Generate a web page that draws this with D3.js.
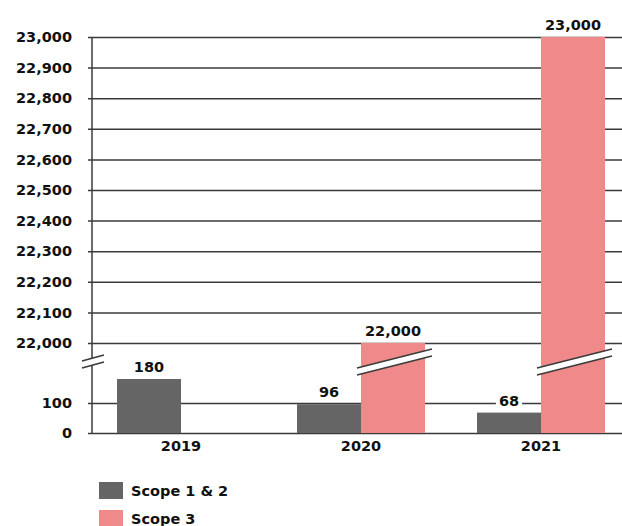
<!DOCTYPE html>
<html>
<head>
	<meta charset="utf-8">
	<script src="https://d3js.org/d3.v7.min.js"></script>
	<style>
		body { margin: 0; background: #fff; }
		svg { display: block; }
		text {
		  font-family: "DejaVu Sans", sans-serif;
		  font-weight: bold;
		  font-size: 14.5px;
		  fill: #111;
		}
		.grid line { stroke: #3a3a3a; stroke-width: 1.5; }
		.grid path { display: none; }
	</style>
</head>
<body>
<svg width="622" height="526"></svg>
<script>
	const years = [ '2019', '2020', '2021' ];
	const series = [ 'Scope 1 & 2', 'Scope 3' ];
	const scope12 = [ 180, 96, 68 ];
	const scope3 = [ null, 22000, 23000 ];
	const colors = [ '#656565', '#f08a8a' ];
	const yTicks = [ 0, 100, 22000, 22100, 22200, 22300, 22400, 22500, 22600, 22700, 22800, 22900, 23000 ];

	const svg = d3.select( 'svg' );

	// broken scale: 0–200 below the break, 22,000–23,000 above it
	const y = d3.scaleLinear()
	  .domain( [ 0, 200, 22000, 23000 ] )
	  .range( [ 433, 373, 343, 37 ] );

	const x = d3.scaleBand()
	  .domain( years )
	  .range( [ 91, 631 ] );

	const xs = d3.scaleBand()
	  .domain( series )
	  .range( [ 26, 154 ] );

	const axisX = 92;

	// grid + y labels
	const grid = svg.append( 'g' )
	  .attr( 'class', 'grid' )
	  .attr( 'transform', `translate(${ axisX }, 0)` )
	  .call( d3.axisLeft( y ).tickValues( yTicks ).tickSize( 0 ).tickFormat( d3.format( ',' ) ).tickPadding( 20 ) );
	grid.selectAll( '.tick line' )
	  .attr( 'x1', -4 )
	  .attr( 'x2', 622 - axisX );
	grid.selectAll( '.tick text' )
	  .attr( 'fill', '#111' )
	  .style( 'font-size', '14.5px' )
	  .style( 'font-family', '"DejaVu Sans", sans-serif' );

	// y axis line
	svg.append( 'line' )
	  .attr( 'x1', axisX ).attr( 'x2', axisX )
	  .attr( 'y1', y( 23000 ) ).attr( 'y2', y( 0 ) )
	  .attr( 'stroke', '#3a3a3a' ).attr( 'stroke-width', 1.5 );

	// bars
	const rows = years.map( ( yr, i ) => ( { year: yr, vals: [ scope12[i], scope3[i] ] } ) );
	const groups = svg.selectAll( 'g.year' )
	  .data( rows )
	  .enter()
	  .append( 'g' )
	  .attr( 'class', 'year' )
	  .attr( 'transform', ( d ) => `translate(${ x( d.year ) }, 0)` );

	const cells = groups.selectAll( 'g.cell' )
	  .data( ( d ) => d.vals.map( ( v, j ) => ( { v: v, s: series[j], j: j } ) ).filter( ( c ) => c.v != null ) )
	  .enter()
	  .append( 'g' )
	  .attr( 'class', 'cell' );

	cells.append( 'rect' )
	  .attr( 'x', ( c ) => xs( c.s ) )
	  .attr( 'width', xs.bandwidth() )
	  .attr( 'y', ( c ) => y( c.v ) )
	  .attr( 'height', ( c ) => y( 0 ) - y( c.v ) )
	  .attr( 'fill', ( c ) => colors[c.j] );

	// break marks across the tall bars
	const breakBand = ( x0, x1, yl, yr, gap ) =>
	  `M${ x0 },${ yl } L${ x1 },${ yr } L${ x1 },${ yr + gap } L${ x0 },${ yl + gap } Z`;

	const tall = cells.filter( ( c ) => c.v > 200 );
	tall.append( 'path' )
	  .attr( 'd', ( c ) => breakBand( xs( c.s ) - 4, xs( c.s ) + xs.bandwidth() + 7, 368, 349, 7 ) )
	  .attr( 'fill', '#fff' );
	tall.append( 'path' )
	  .attr( 'd', ( c ) => `M${ xs( c.s ) - 4 },368 L${ xs( c.s ) + xs.bandwidth() + 7 },349 M${ xs( c.s ) - 4 },375 L${ xs( c.s ) + xs.bandwidth() + 7 },356` )
	  .attr( 'stroke', '#3a3a3a' ).attr( 'stroke-width', 1.5 ).attr( 'fill', 'none' );

	// value labels with white backing
	const labels = cells.append( 'g' )
	  .attr( 'transform', ( c ) => `translate(${ xs( c.s ) + xs.bandwidth() / 2 }, ${ y( c.v ) - 7 })` );
	labels.append( 'text' )
	  .attr( 'text-anchor', 'middle' )
	  .text( ( c ) => d3.format( ',' )( c.v ) );
	labels.insert( 'rect', 'text' )
	  .each( function () {
	    const b = this.nextSibling.getBBox();
	    d3.select( this )
	      .attr( 'x', b.x - 3 ).attr( 'y', b.y + 1 )
	      .attr( 'width', b.width + 6 ).attr( 'height', b.height - 2 )
	      .attr( 'fill', '#fff' );
	  } );

	// axis break on the y axis
	svg.append( 'path' )
	  .attr( 'd', breakBand( 82, 104, 361, 355, 7 ) )
	  .attr( 'fill', '#fff' );
	svg.append( 'path' )
	  .attr( 'd', 'M82,361 L104,355 M82,368 L104,362' )
	  .attr( 'stroke', '#3a3a3a' ).attr( 'stroke-width', 1.5 );

	// x labels
	svg.append( 'g' )
	  .attr( 'transform', `translate(0, ${ y( 0 ) })` )
	  .call( d3.axisBottom( x ).tickSize( 0 ).tickPadding( 8 ) )
	  .call( ( g ) => g.select( '.domain' ).remove() )
	  .selectAll( 'text' )
	  .attr( 'fill', '#111' )
	  .style( 'font-size', '14.5px' )
	  .style( 'font-family', '"DejaVu Sans", sans-serif' );

	// legend
	const legend = svg.selectAll( 'g.legend' )
	  .data( series )
	  .enter()
	  .append( 'g' )
	  .attr( 'class', 'legend' )
	  .attr( 'transform', ( d, i ) => `translate(99, ${ 482 + i * 28 })` );
	legend.append( 'rect' )
	  .attr( 'width', 24 ).attr( 'height', 17 )
	  .attr( 'fill', ( d, i ) => colors[i] );
	legend.append( 'text' )
	  .attr( 'x', 32 ).attr( 'y', 14 )
	  .text( ( d ) => d );
</script>
</body>
</html>
